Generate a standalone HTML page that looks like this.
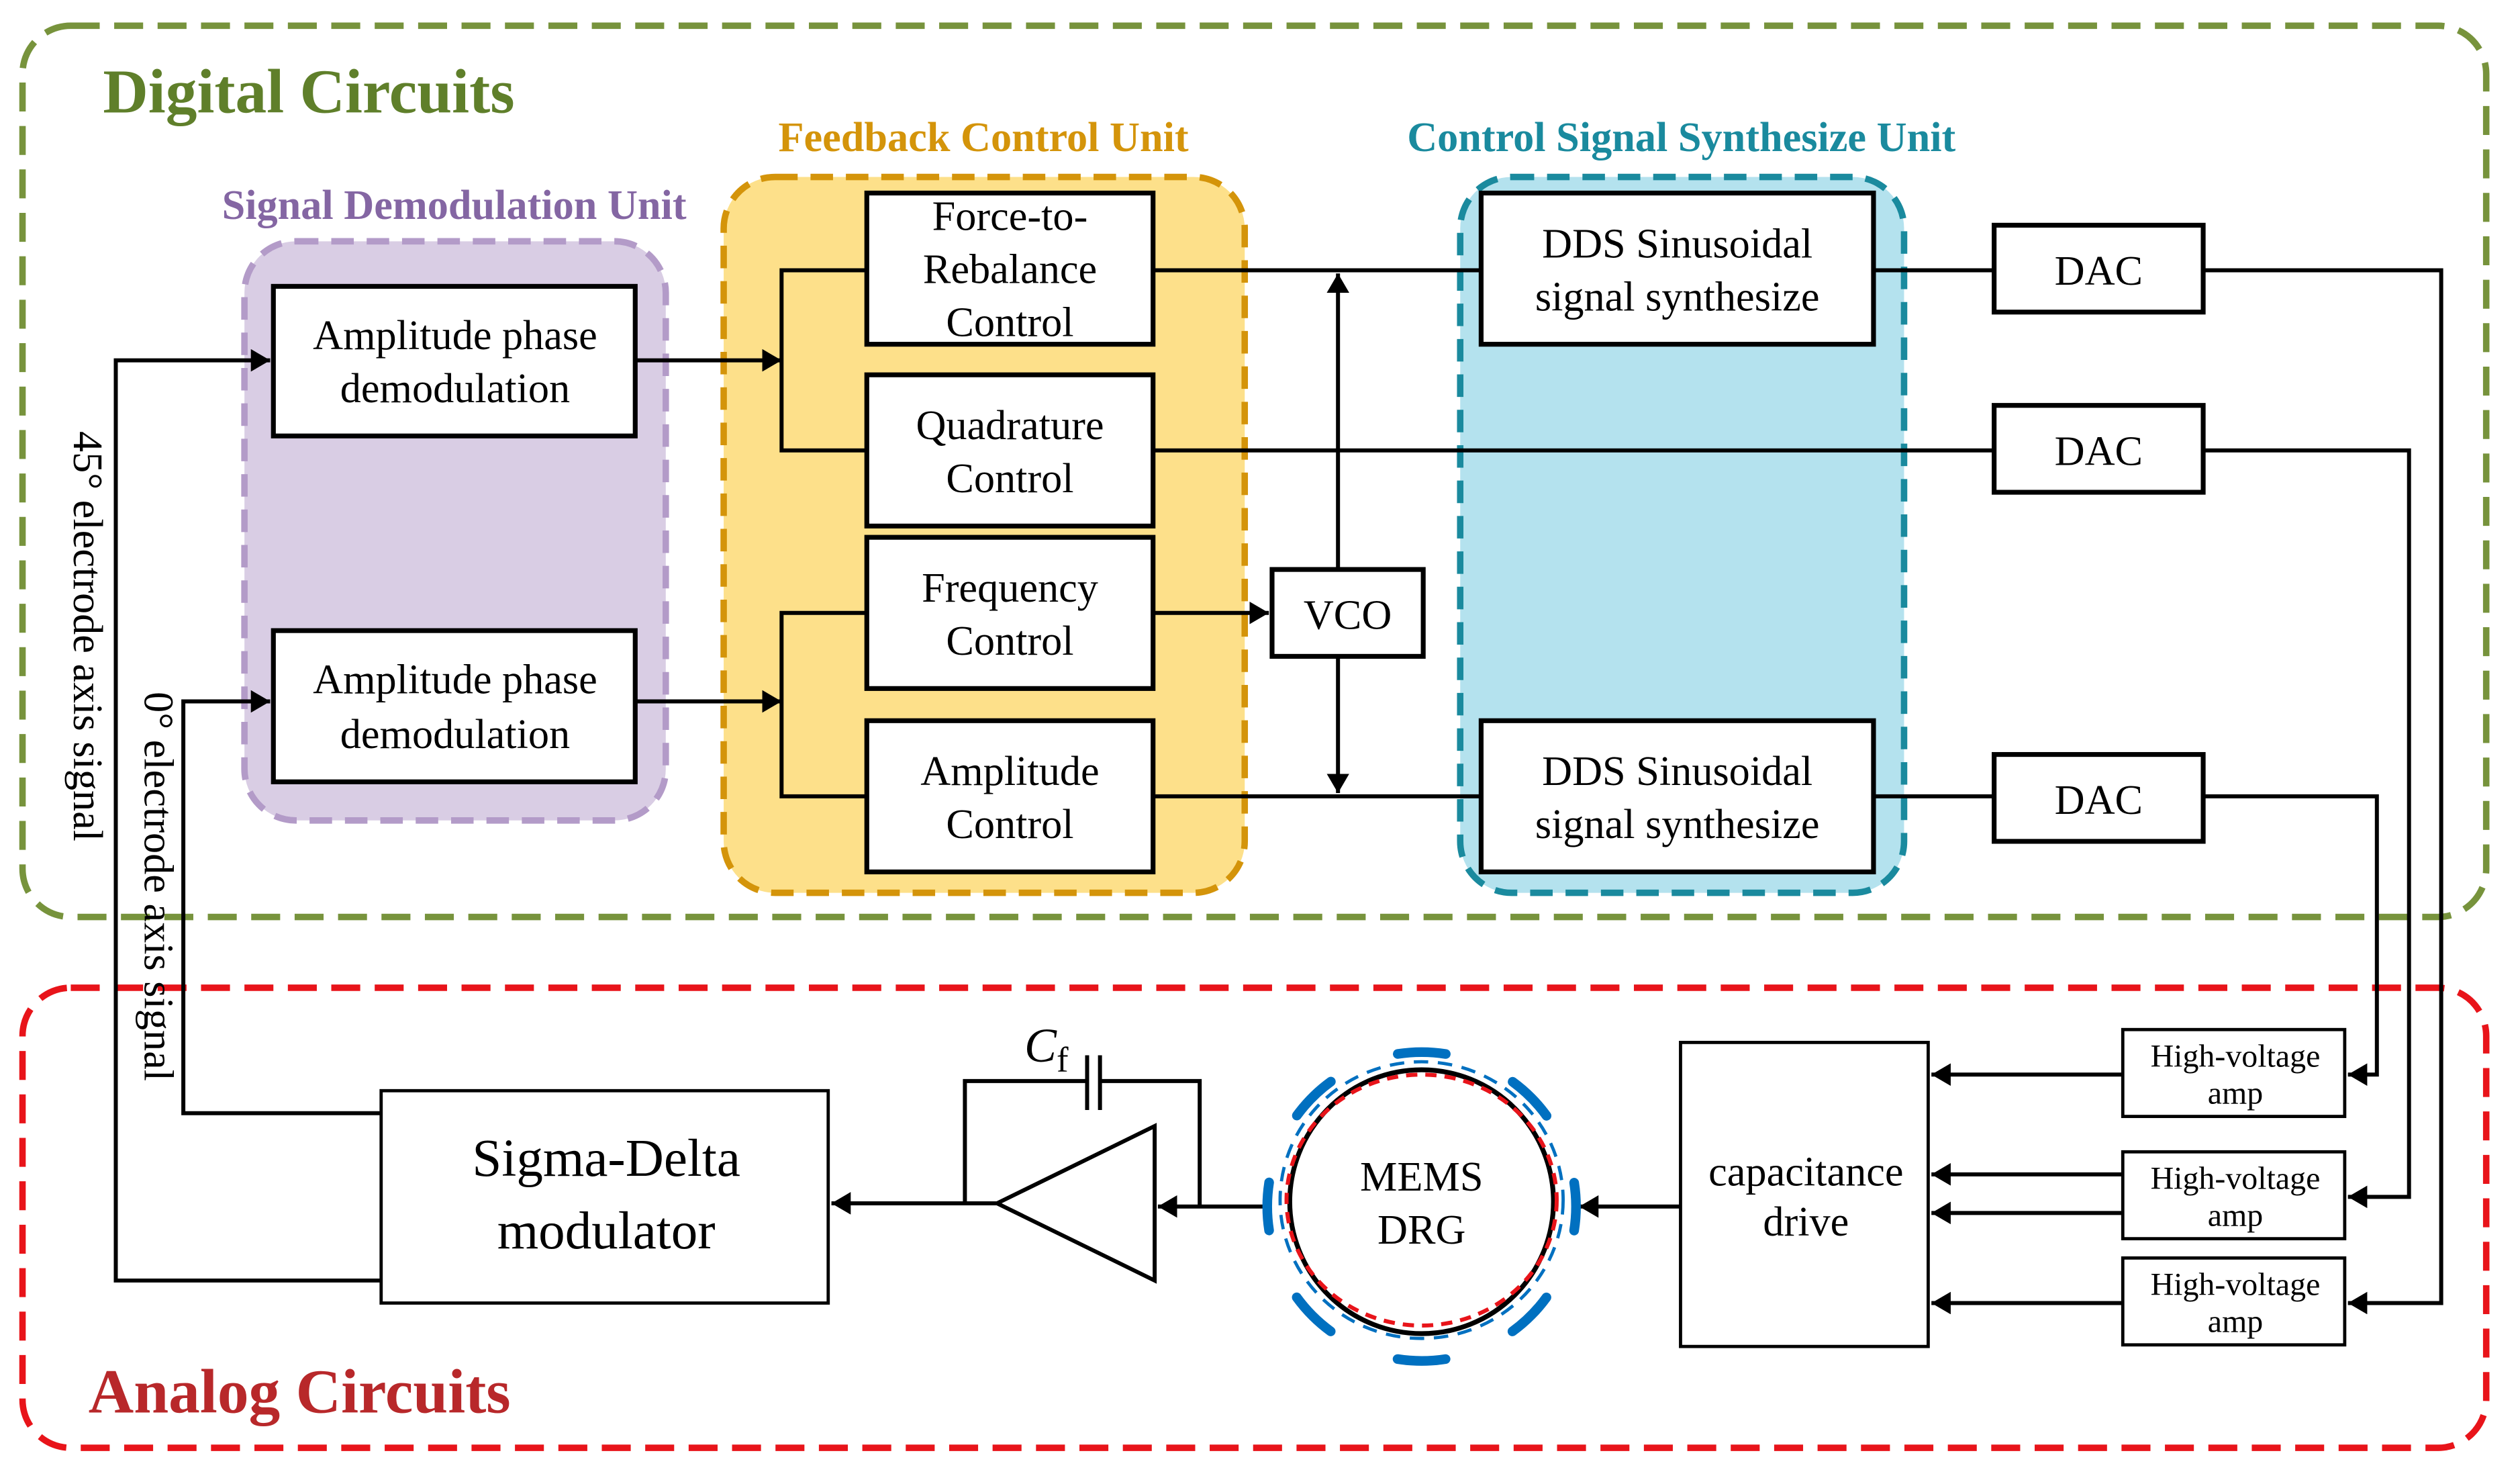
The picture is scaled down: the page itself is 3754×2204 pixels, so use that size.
<!DOCTYPE html>
<html><head><meta charset="utf-8"><style>html,body{margin:0;padding:0;background:#fff}svg{display:block}</style></head><body>
<svg width="3754" height="2204" viewBox="0 0 1567 920" preserveAspectRatio="none" xmlns="http://www.w3.org/2000/svg" font-family="'Liberation Serif', serif">
<defs>
<marker id="a2" markerWidth="12" markerHeight="14" refX="12" refY="7" orient="auto" markerUnits="userSpaceOnUse"><path d="M0,0L12,7L0,14z" fill="#000"/></marker>
</defs>
<rect x="14" y="16" width="1532" height="554" rx="30" fill="none" stroke="#77933c" stroke-width="4" stroke-dasharray="18 9"/>
<rect x="14" y="614" width="1532" height="286" rx="30" fill="none" stroke="#e8141a" stroke-width="4" stroke-dasharray="18 9"/>
<rect x="152" y="150" width="262" height="360" rx="32" fill="#d9cde4" stroke="#b39bc8" stroke-width="4" stroke-dasharray="14 8"/>
<rect x="450" y="110" width="324" height="445" rx="32" fill="#fde08a" stroke="#d4940a" stroke-width="4" stroke-dasharray="14 8"/>
<rect x="908" y="110" width="276" height="445" rx="32" fill="#b4e2ee" stroke="#1a8a9e" stroke-width="4" stroke-dasharray="14 8"/>
<g font-weight="bold">
<text x="64" y="70" font-size="39" fill="#5f7f2a">Digital Circuits</text>
<text x="55" y="878" font-size="39" fill="#b8282a">Analog Circuits</text>
<text x="138" y="136" font-size="26" fill="#8466a3">Signal Demodulation Unit</text>
<text x="484" y="94" font-size="26" fill="#d4940a">Feedback Control Unit</text>
<text x="875" y="94" font-size="26" fill="#1a8a9e">Control Signal Synthesize Unit</text>
</g>
<g fill="#fff" stroke="#000" stroke-width="3">
<rect x="170" y="178" width="225" height="93"/><rect x="170" y="392" width="225" height="94"/>
<rect x="539" y="120" width="178" height="94"/><rect x="539" y="233" width="178" height="94"/>
<rect x="539" y="334" width="178" height="94"/><rect x="539" y="448" width="178" height="94"/>
<rect x="791" y="354" width="94" height="54"/>
<rect x="921" y="120" width="244" height="94"/><rect x="921" y="448" width="244" height="94"/>
<rect x="1240" y="140" width="130" height="54"/><rect x="1240" y="252" width="130" height="54"/><rect x="1240" y="469" width="130" height="54"/>
<rect x="1320" y="640" width="138" height="54" stroke-width="2"/><rect x="1320" y="716" width="138" height="54" stroke-width="2"/><rect x="1320" y="782" width="138" height="54" stroke-width="2"/>
<rect x="1045" y="648" width="154" height="189" stroke-width="2"/>
<rect x="237" y="678" width="278" height="132" stroke-width="2"/>
<path d="M620,748L718,700L718,796Z" stroke-width="2.5"/>
</g>
<g font-size="26" text-anchor="middle" fill="#000">
<text x="283" y="217">Amplitude phase</text><text x="283" y="250">demodulation</text>
<text x="283" y="431">Amplitude phase</text><text x="283" y="465">demodulation</text>
<text x="628" y="143">Force-to-</text><text x="628" y="176">Rebalance</text><text x="628" y="209">Control</text>
<text x="628" y="273">Quadrature</text><text x="628" y="306">Control</text>
<text x="628" y="374">Frequency</text><text x="628" y="407">Control</text>
<text x="628" y="488">Amplitude</text><text x="628" y="521">Control</text>
<text x="838" y="391">VCO</text>
<text x="1043" y="160">DDS Sinusoidal</text><text x="1043" y="193">signal synthesize</text>
<text x="1043" y="488">DDS Sinusoidal</text><text x="1043" y="521">signal synthesize</text>
<text x="1305" y="177">DAC</text><text x="1305" y="289">DAC</text><text x="1305" y="506">DAC</text>
<text x="1123" y="737">capacitance</text><text x="1123" y="768">drive</text>
<text x="377" y="731" font-size="33">Sigma-Delta</text><text x="377" y="776" font-size="33">modulator</text>
<text x="884" y="740">MEMS</text><text x="884" y="773">DRG</text>
</g>
<g font-size="20" text-anchor="middle">
<text x="1390" y="663">High-voltage</text><text x="1390" y="686">amp</text>
<text x="1390" y="739">High-voltage</text><text x="1390" y="762">amp</text>
<text x="1390" y="805">High-voltage</text><text x="1390" y="828">amp</text>
</g>
<text transform="translate(46,268) rotate(90)" font-size="26">45° electrode axis signal</text>
<text transform="translate(90,430) rotate(90)" font-size="26">0° electrode axis signal</text>
<text x="637" y="660" font-size="30" font-style="italic">C</text><text x="657" y="666" font-size="22">f</text>
<g fill="none" stroke="#000" stroke-width="2.5">
<path d="M237,796H72V224H168" marker-end="url(#a2)"/>
<path d="M237,692H114V436H168" marker-end="url(#a2)"/>
<path d="M395,224H486" marker-end="url(#a2)"/><path d="M539,168H486V280H539"/>
<path d="M395,436H486" marker-end="url(#a2)"/><path d="M539,381H486V495H539"/>
<path d="M717,168H921M717,280H1240M717,495H921"/>
<path d="M717,381H789" marker-end="url(#a2)"/>
<path d="M832,354V170" marker-end="url(#a2)"/><path d="M832,408V493" marker-end="url(#a2)"/>
<path d="M1165,168H1240M1165,495H1240"/>
<path d="M1370,168H1518V810H1460" marker-end="url(#a2)"/>
<path d="M1370,280H1498V744H1460" marker-end="url(#a2)"/>
<path d="M1370,495H1478V668H1460" marker-end="url(#a2)"/>
<path d="M1320,668H1201" marker-end="url(#a2)"/><path d="M1320,730H1201" marker-end="url(#a2)"/>
<path d="M1320,754H1201" marker-end="url(#a2)"/><path d="M1320,810H1201" marker-end="url(#a2)"/>
<path d="M1045,750H982" marker-end="url(#a2)"/>
<path d="M790,750H720" marker-end="url(#a2)"/>
<path d="M746,750V672H684M676,672H600V748H620"/>
<path d="M676,656V690M684,656V690"/>
<path d="M620,748H517" marker-end="url(#a2)"/>
</g>
<circle cx="884" cy="747" r="82" fill="none" stroke="#000" stroke-width="3"/>
<ellipse cx="884" cy="746" rx="84" ry="78" fill="none" stroke="#e8141a" stroke-width="2.5" stroke-dasharray="7 5"/>
<ellipse cx="884" cy="746" rx="88" ry="86" fill="none" stroke="#0070c0" stroke-width="2" stroke-dasharray="9 6"/>
<circle cx="884" cy="750" r="96" fill="none" stroke="#0070c0" stroke-width="6" stroke-dasharray="30 45.4" stroke-dashoffset="15" stroke-linecap="round"/>
</svg>
</body></html>
